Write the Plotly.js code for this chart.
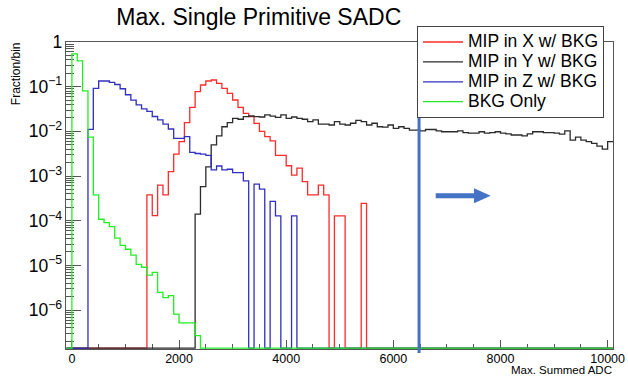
<!DOCTYPE html>
<html><head><meta charset="utf-8">
<script src="https://cdn.plot.ly/plotly-3.0.1.min.js"></script>
<style>html,body{margin:0;padding:0;background:#fff;}#chart{width:628px;height:379px;}</style>
</head><body><div id="chart"></div>
<script>
// ---- histogram binning ----
const binWidth = 100;
const histLow = -100;
const histHigh = 10100;

// ---- series (fraction per bin), each listed from its first filled bin ----
const seriesNames = ['MIP in X w/ BKG', 'MIP in Y w/ BKG', 'MIP in Z w/ BKG', 'BKG Only'];

const mipXStart = 1400;
const mipXValues = [3.8e-4, 1.3e-4, 6.3e-4, 3.8e-4, 1.26e-3, 3.1e-3, 5.9e-3, 0.0157, 0.0346, 0.0776,
  0.109, 0.134, 0.141, 0.119, 0.092, 0.071, 0.0504, 0.0346, 0.0254, 0.0213,
  0.0151, 0.0100, 0.0076, 0.0061, 2.9e-3, 2.9e-3, 1.7e-3, 1.05e-3, 1.5e-3, 7.5e-4,
  3.8e-4, 3.8e-4, 6.3e-4, 3.8e-4, 0, 1.28e-4, 1.28e-4, 0, 0, 0, 2.46e-4];

const mipYStart = 2300;
const mipYValues = [1.4e-4, 5.8e-4, 1.6e-3, 5.0e-3, 7.9e-3, 0.0127, 0.0157, 0.0196, 0.0187, 0.0213,
  0.0221, 0.0213, 0.0210, 0.0233, 0.0220, 0.0206, 0.0233, 0.0196, 0.0210, 0.0196,
  0.0187, 0.0165, 0.0180, 0.0146, 0.0146, 0.0139, 0.0165, 0.0146, 0.0139, 0.0152,
  0.0176, 0.0165, 0.0139, 0.0152, 0.0127, 0.0124, 0.0139, 0.0117, 0.0127, 0.0117,
  0.0107, 0.0107, 0.0103, 0.0110, 0.0110, 0.0103, 0.0098, 0.0098, 0.0098, 0.0103,
  0.0094, 0.0091, 0.0091, 0.0098, 0.0091, 0.0094, 0.0098, 0.0091, 0.0088, 0.0083,
  0.0083, 0.0079, 0.0088, 0.0098, 0.0098, 0.0094, 0.0094, 0.0091, 0.0087, 0.0103,
  0.0064, 0.0074, 0.0064, 0.0059, 0.0054, 0.0047, 0.0040, 0.0059];

const mipZStart = 300;
const mipZValues = [0.0111, 0.092, 0.134, 0.134, 0.125, 0.112, 0.090, 0.066, 0.050, 0.039,
  0.032, 0.028, 0.0215, 0.018, 0.0146, 0.0113, 0.0070, 0.0070, 0.0076, 3.4e-3,
  3.2e-3, 3.1e-3, 2.9e-3, 1.37e-3, 1.68e-3, 1.37e-3, 1.42e-3, 1.19e-3, 1.19e-3, 7.8e-4,
  0, 6.6e-4, 5.1e-4, 0, 2.7e-4, 1.28e-4, 0, 0, 1.28e-4];

const bkgStart = 0;
const bkgValues = [0.54, 0.38, 0.081, 0.0074, 3.8e-4, 1.08e-4, 9.1e-5, 7.4e-5, 4.1e-5, 2.8e-5,
  2.3e-5, 1.7e-5, 1.06e-5, 9.1e-6, 6.1e-6, 7.0e-6, 2.5e-6, 1.9e-6, 2.1e-6, 8.1e-7,
  5.2e-7, 5.2e-7, 5.2e-7, 2.7e-7];

const seriesColors = ['#ff2a2a', '#2b2b2b', '#3030c0', '#22ee22'];

// cut marker
const cutValue = 6480;

// axes
const xRange = [-110, 10100];
const yLogRange = [-6.87, 0];
const xTickStep = 2000;
const xMinorStep = 500;

const FONT = 'Liberation Sans, Arial, Helvetica, sans-serif';
const floorVal = Math.pow(10, yLogRange[0] + 0.02); // empty bins drawn on the frame bottom, as ROOT does

function histTrace(name, start, vals, color) {
  const nb = Math.round((histHigh - histLow) / binWidth);
  const xs = [], ys = [];
  for (let i = 0; i < nb; i++) {
    const lo = histLow + i * binWidth;
    const k = Math.round((lo - start) / binWidth);
    const v = (k >= 0 && k < vals.length) ? vals[k] : 0;
    xs.push(lo);
    ys.push(v > 0 ? v : floorVal);
  }
  xs.push(histHigh); ys.push(ys[ys.length - 1]);
  return {type: 'scatter', mode: 'lines', x: xs, y: ys,
    name: '<span style="font-size:17.5px">' + name + '</span>',
    line: {shape: 'hv', color: color, width: 1.3}, hoverinfo: 'skip'};
}

const traces = [
  histTrace(seriesNames[0], mipXStart, mipXValues, seriesColors[0]),
  histTrace(seriesNames[1], mipYStart, mipYValues, seriesColors[1]),
  histTrace(seriesNames[2], mipZStart, mipZValues, seriesColors[2]),
  histTrace(seriesNames[3], bkgStart, bkgValues, seriesColors[3])
];

const arrowColor = '#4472C4';

const layout = {
  width: 628, height: 379,
  margin: {l: 66, r: 15, t: 42, b: 30},
  paper_bgcolor: '#fff', plot_bgcolor: '#fff',
  font: {family: FONT, color: '#000', size: 14},
  title: {text: 'Max. Single Primitive SADC', font: {family: FONT, size: 23, color: '#000'},
    x: 0.412, xanchor: 'center', xref: 'container', y: 0.954, yanchor: 'middle', yref: 'container'},
  showlegend: true,
  legend: {x: 0.6417, y: 1.052, xanchor: 'left', yanchor: 'top', bgcolor: '#fff',
    bordercolor: '#444', borderwidth: 1, font: {family: FONT, size: 13, color: '#000'},
    itemwidth: 40, traceorder: 'normal'},
  xaxis: {
    range: xRange, showgrid: false, zeroline: false,
    showline: true, linecolor: '#555', linewidth: 1, mirror: true,
    ticks: 'inside', ticklen: 9, tickcolor: '#555', tickwidth: 1,
    tick0: 0, dtick: xTickStep, tickformat: 'd', ticklabelstandoff: -2,
    minor: {ticks: 'inside', ticklen: 5, tickcolor: '#555', dtick: xMinorStep, showgrid: false},
    tickfont: {family: FONT, size: 12.5, color: '#000'},
    layer: 'below traces'
  },
  yaxis: {
    type: 'log', range: yLogRange, showgrid: false, zeroline: false,
    showline: true, linecolor: '#555', linewidth: 1, mirror: true,
    ticks: 'inside', ticklen: 15, tickcolor: '#555', tickwidth: 1,
    tick0: 0, dtick: 1, exponentformat: 'power',
    minor: {ticks: 'inside', ticklen: 8, tickcolor: '#555', dtick: 'D1', showgrid: false},
    tickfont: {family: FONT, size: 14, color: '#000'},
    layer: 'below traces'
  },
  shapes: [
    {type: 'line', xref: 'x', yref: 'paper', x0: cutValue, x1: cutValue, y0: -0.013, y1: 1,
      line: {color: arrowColor, width: 3}, layer: 'above'},
    {type: 'path', xref: 'paper', yref: 'paper',
      path: 'M0.6759,0.5075 L0.7459,0.5075 L0.7459,0.5238 L0.7764,0.4993 L0.7459,0.4749 L0.7459,0.4912 L0.6759,0.4912 Z',
      fillcolor: arrowColor, line: {width: 0}, layer: 'above'}
  ],
  annotations: [
    {text: 'Max. Summed ADC', xref: 'paper', yref: 'paper', x: 1.002, y: -0.096,
      xanchor: 'right', yanchor: 'bottom', showarrow: false, font: {family: FONT, size: 11.5, color: '#000'}},
    {text: 'Fraction/bin', xref: 'paper', yref: 'paper', x: -0.09, y: 0.8977,
      xanchor: 'center', yanchor: 'middle', textangle: -90, showarrow: false,
      font: {family: FONT, size: 12, color: '#000'}}
  ]
};

Plotly.newPlot('chart', traces, layout, {staticPlot: true, displayModeBar: false});
</script>
</body></html>
